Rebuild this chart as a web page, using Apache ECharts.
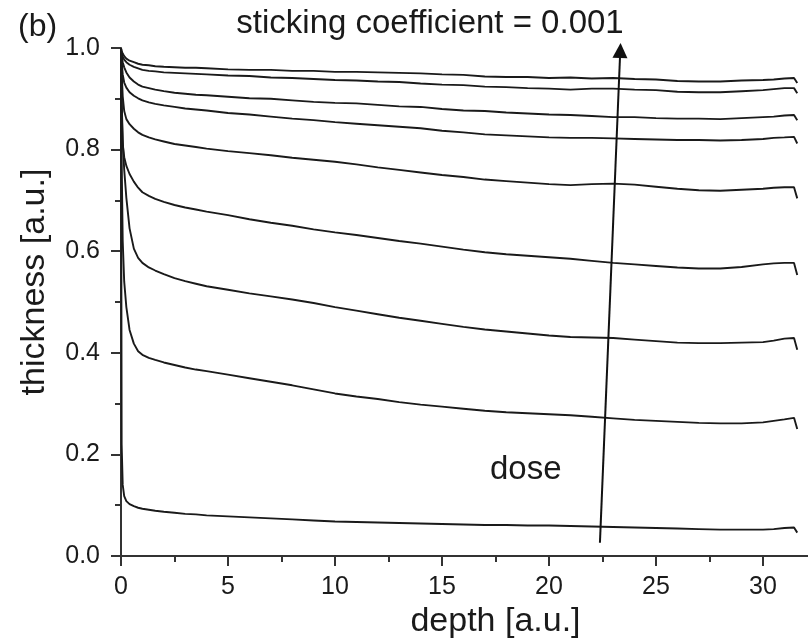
<!DOCTYPE html>
<html>
<head>
<meta charset="utf-8">
<title>sticking coefficient = 0.001</title>
<script src="https://cdn.jsdelivr.net/npm/echarts@6/dist/echarts.min.js"></script>
<style>
  html, body { margin: 0; padding: 0; background: #fff; }
  #chart { width: 808px; height: 640px; }
</style>
</head>
<body>
<div id="chart"></div>
<script>
// depth positions shared by every curve (denser near the surface)
const depth = [0, 0.03, 0.08, 0.15, 0.25, 0.4, 0.6, 0.8, 1, 1.3, 1.6, 2, 2.5, 3, 3.5, 4,
  5, 6, 7, 8, 9, 10, 11, 12, 13, 14, 15, 16, 17, 18, 19, 20, 21, 22, 23, 24, 25, 26, 27, 28, 29, 30,
  30.5, 31, 31.45, 31.6];

// thickness profiles, highest dose first
const dose1 = [1.000, 0.994, 0.989, 0.984, 0.979, 0.975, 0.972, 0.969, 0.967, 0.966, 0.964, 0.963, 0.962, 0.961, 0.961, 0.960,
  0.958, 0.957, 0.957, 0.955, 0.955, 0.953, 0.953, 0.952, 0.951, 0.950, 0.948, 0.947, 0.944, 0.943, 0.943, 0.941, 0.942, 0.940, 0.941, 0.939, 0.938, 0.935, 0.934, 0.934, 0.936, 0.937,
  0.938, 0.940, 0.941, 0.931];
const dose2 = [1.000, 0.990, 0.983, 0.977, 0.972, 0.967, 0.963, 0.960, 0.957, 0.955, 0.954, 0.952, 0.951, 0.950, 0.949, 0.948,
  0.946, 0.945, 0.942, 0.941, 0.939, 0.937, 0.936, 0.934, 0.933, 0.930, 0.928, 0.927, 0.924, 0.923, 0.921, 0.920, 0.918, 0.920, 0.920, 0.918, 0.917, 0.914, 0.913, 0.913, 0.915, 0.917,
  0.919, 0.921, 0.921, 0.911];
const dose3 = [1.000, 0.985, 0.972, 0.962, 0.952, 0.942, 0.934, 0.928, 0.924, 0.921, 0.918, 0.915, 0.912, 0.910, 0.908, 0.907,
  0.904, 0.901, 0.900, 0.897, 0.894, 0.892, 0.891, 0.888, 0.885, 0.884, 0.880, 0.877, 0.876, 0.873, 0.871, 0.869, 0.868, 0.866, 0.864, 0.864, 0.862, 0.861, 0.861, 0.860, 0.862, 0.864,
  0.865, 0.867, 0.868, 0.858];
const dose4 = [1.000, 0.975, 0.948, 0.932, 0.922, 0.913, 0.906, 0.901, 0.897, 0.893, 0.890, 0.887, 0.884, 0.881, 0.879, 0.877,
  0.872, 0.869, 0.865, 0.861, 0.858, 0.854, 0.851, 0.848, 0.845, 0.842, 0.837, 0.834, 0.830, 0.828, 0.826, 0.824, 0.823, 0.823, 0.822, 0.821, 0.820, 0.819, 0.819, 0.818, 0.819, 0.821,
  0.823, 0.824, 0.825, 0.812];
const dose5 = [1.000, 0.955, 0.905, 0.876, 0.860, 0.850, 0.841, 0.834, 0.829, 0.824, 0.820, 0.816, 0.811, 0.808, 0.805, 0.802,
  0.797, 0.793, 0.789, 0.784, 0.780, 0.776, 0.771, 0.765, 0.760, 0.755, 0.750, 0.746, 0.741, 0.738, 0.735, 0.732, 0.730, 0.732, 0.733, 0.731, 0.727, 0.723, 0.720, 0.719, 0.721, 0.723,
  0.725, 0.726, 0.726, 0.704];
const dose6 = [1.000, 0.880, 0.810, 0.785, 0.768, 0.752, 0.737, 0.725, 0.716, 0.709, 0.703, 0.697, 0.691, 0.686, 0.682, 0.678,
  0.671, 0.663, 0.656, 0.650, 0.643, 0.637, 0.632, 0.626, 0.620, 0.615, 0.609, 0.603, 0.598, 0.594, 0.591, 0.588, 0.585, 0.581, 0.577, 0.574, 0.571, 0.568, 0.566, 0.566, 0.569, 0.574,
  0.576, 0.577, 0.577, 0.553];
const dose7 = [1.000, 0.900, 0.820, 0.760, 0.705, 0.645, 0.605, 0.587, 0.577, 0.568, 0.562, 0.555, 0.547, 0.541, 0.536, 0.531,
  0.524, 0.517, 0.511, 0.505, 0.498, 0.490, 0.483, 0.476, 0.469, 0.463, 0.457, 0.451, 0.446, 0.442, 0.438, 0.434, 0.431, 0.430, 0.429, 0.426, 0.423, 0.420, 0.419, 0.419, 0.420, 0.421,
  0.424, 0.428, 0.429, 0.406];
const dose8 = [1.000, 0.780, 0.620, 0.540, 0.490, 0.445, 0.418, 0.403, 0.396, 0.390, 0.386, 0.381, 0.376, 0.371, 0.367, 0.364,
  0.357, 0.350, 0.343, 0.336, 0.328, 0.320, 0.314, 0.309, 0.303, 0.298, 0.294, 0.290, 0.286, 0.283, 0.281, 0.279, 0.277, 0.274, 0.271, 0.268, 0.266, 0.264, 0.262, 0.261, 0.261, 0.263,
  0.266, 0.269, 0.272, 0.250];
const dose9 = [1.000, 0.220, 0.140, 0.118, 0.108, 0.102, 0.098, 0.095, 0.093, 0.091, 0.089, 0.087, 0.085, 0.083, 0.082, 0.080,
  0.078, 0.076, 0.074, 0.072, 0.070, 0.068, 0.067, 0.066, 0.065, 0.064, 0.063, 0.062, 0.061, 0.061, 0.060, 0.060, 0.059, 0.058, 0.057, 0.056, 0.055, 0.054, 0.053, 0.052, 0.052, 0.052,
  0.053, 0.055, 0.056, 0.046];

const profiles = [dose1, dose2, dose3, dose4, dose5, dose6, dose7, dose8, dose9];

// "dose" arrow, in data units
const arrowFrom = [22.38, 0.026];
const arrowTo = [23.33, 0.995];

const FONT = 'Liberation Sans, Arial, sans-serif';
const INK = '#1a1a1a';

const chart = echarts.init(document.getElementById('chart'), null, { renderer: 'canvas' });

const series = profiles.map((vals) => ({
  type: 'line',
  data: depth.map((d, k) => [d, vals[k]]),
  showSymbol: false,
  symbol: 'none',
  clip: false,
  lineStyle: { color: INK, width: 1.9 },
  silent: true,
  z: 2,
}));

series[series.length - 1].markLine = {
  silent: true,
  symbol: ['none', 'triangle'],
  symbolSize: [15, 15],
  label: { show: false },
  lineStyle: { color: '#111', width: 2, type: 'solid' },
  emphasis: { disabled: true },
  data: [[{ coord: arrowFrom }, { coord: arrowTo }]],
};

const axisInk = { color: '#333', width: 2 };

chart.setOption({
  animation: false,
  backgroundColor: '#fff',
  textStyle: { fontFamily: FONT },
  grid: {
    left: 121,
    right: -62,
    top: 48,
    bottom: 84,
    outerBoundsMode: 'none',
  },
  xAxis: {
    type: 'value',
    min: 0,
    max: 35,
    interval: 5,
    name: 'depth [a.u.]',
    nameLocation: 'middle',
    nameGap: 43,
    nameTextStyle: { fontSize: 34, color: INK, fontFamily: FONT },
    axisLine: { show: true, onZero: false, lineStyle: axisInk },
    axisTick: { show: true, inside: false, length: 10, lineStyle: axisInk },
    minorTick: { show: true, splitNumber: 2, length: 6, lineStyle: axisInk },
    splitLine: { show: false },
    axisLabel: { fontSize: 25, color: INK, margin: 19, fontFamily: FONT },
  },
  yAxis: {
    type: 'value',
    min: 0,
    max: 1,
    interval: 0.2,
    name: 'thickness [a.u.]',
    nameLocation: 'middle',
    nameGap: 69,
    // nudges the rotated title up a little
    nameTextStyle: { fontSize: 34, color: INK, fontFamily: FONT, padding: [0, 0, 0, 40] },
    axisLine: { show: true, onZero: false, lineStyle: axisInk },
    axisTick: { show: true, inside: false, length: 10, lineStyle: axisInk },
    minorTick: { show: true, splitNumber: 2, length: 6, lineStyle: axisInk },
    splitLine: { show: false },
    axisLabel: {
      fontSize: 25,
      color: INK,
      margin: 21,
      fontFamily: FONT,
      formatter: (v) => v.toFixed(1),
    },
  },
  graphic: [
    {
      type: 'text',
      left: 18,
      top: 11,
      style: { text: '(b)', fontSize: 32, fontFamily: FONT, fill: INK },
    },
    {
      type: 'text',
      x: 430,
      y: 24,
      style: {
        text: 'sticking coefficient = 0.001',
        fontSize: 33,
        fontFamily: FONT,
        fill: INK,
        align: 'center',
        verticalAlign: 'middle',
      },
    },
    {
      type: 'text',
      x: 490,
      y: 470,
      style: {
        text: 'dose',
        fontSize: 33,
        fontFamily: FONT,
        fill: INK,
        align: 'left',
        verticalAlign: 'middle',
      },
    },
  ],
  series,
});
</script>
</body>
</html>
